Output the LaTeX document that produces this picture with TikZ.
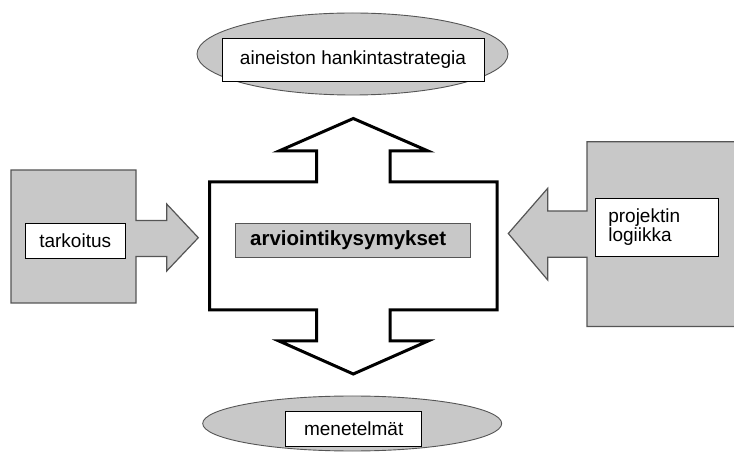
\documentclass[tikz,border=0pt]{standalone}
\usepackage{fontspec}
\setmainfont{Liberation Sans}
\usetikzlibrary{calc}

\definecolor{shade}{RGB}{200,200,200}
\definecolor{edge}{RGB}{85,85,85}

\begin{document}
\begin{tikzpicture}
          [
            x=1pt, y=-1pt,
            greyfill/.style={fill=shade, draw=edge, line width=1.2pt, line join=miter},
            textbox/.style={draw=black, fill=white, line width=0.9pt, inner sep=0pt,
              font=\fontsize{19}{19}\selectfont},
            bigarrow/.style={draw=black, fill=white, line width=3pt, line join=miter}
          ]
          \useasboundingbox (0,0) rectangle (734,454);
          % aineisto
          \draw [greyfill, line width=0.9pt] (352.5,54) ellipse [x radius=155.5, y radius=41];
          \node [textbox, minimum width=262, minimum height=43] (hankinta) at (353,59.5)
            {aineiston hankintastrategia};
          % menetelmat
          \draw [greyfill, line width=0.9pt] (352.2,423.5) ellipse [x radius=149.5, y radius=27.5];
          \node [textbox, minimum width=136, minimum height=35] (menetelmat) at (353.7,429.2)
            {menetelmät};
          % kysymykset
          \draw [bigarrow]
          (353.3,118.5) -- (428,151) -- (390,151) -- (390,182) -- (497,182) -- (497,310)
          -- (390,310) -- (390,341) -- (428,341) -- (353.3,374) -- (279,341) -- (316.7,341)
          -- (316.7,310) -- (209.5,310) -- (209.5,182) -- (316.7,182) -- (316.7,151)
          -- (279,151) -- cycle;
          \node [greyfill, line width=1pt, inner sep=0pt, minimum width=235, minimum height=34.4,
            font=\fontsize{20.5}{20.5}\bfseries] (kysymykset) at (353.2,240.5)
            {\hspace*{-10pt}arviointikysymykset};
          % tarkoitus
          \draw [greyfill]
          (11,170) -- (136,170) -- (136,220.5) -- (166.7,220.5) -- (166.7,204)
          -- (198.3,237.7) -- (166.7,271) -- (166.7,256.5) -- (136,256.5)
          -- (136,303) -- (11,303) -- cycle;
          \node [textbox, minimum width=99.7, minimum height=35] (tarkoitus) at (75.2,240.8)
            {tarkoitus};
          % logiikka
          \filldraw [greyfill]
          (734,141.7) -- (587,141.7) -- (587,211) -- (547.7,211) -- (547.7,188.3)
          -- (508.3,233.5) -- (547.7,280) -- (547.7,257.3) -- (587,257.3)
          -- (587,326.5) -- (734,326.5);
          \node [textbox, minimum height=58.4, text width=98, inner xsep=12.6, align=left]
            (logiikka) at (657.3,227.5) {projektin\\logiikka};
        \end{tikzpicture}
\end{document}
